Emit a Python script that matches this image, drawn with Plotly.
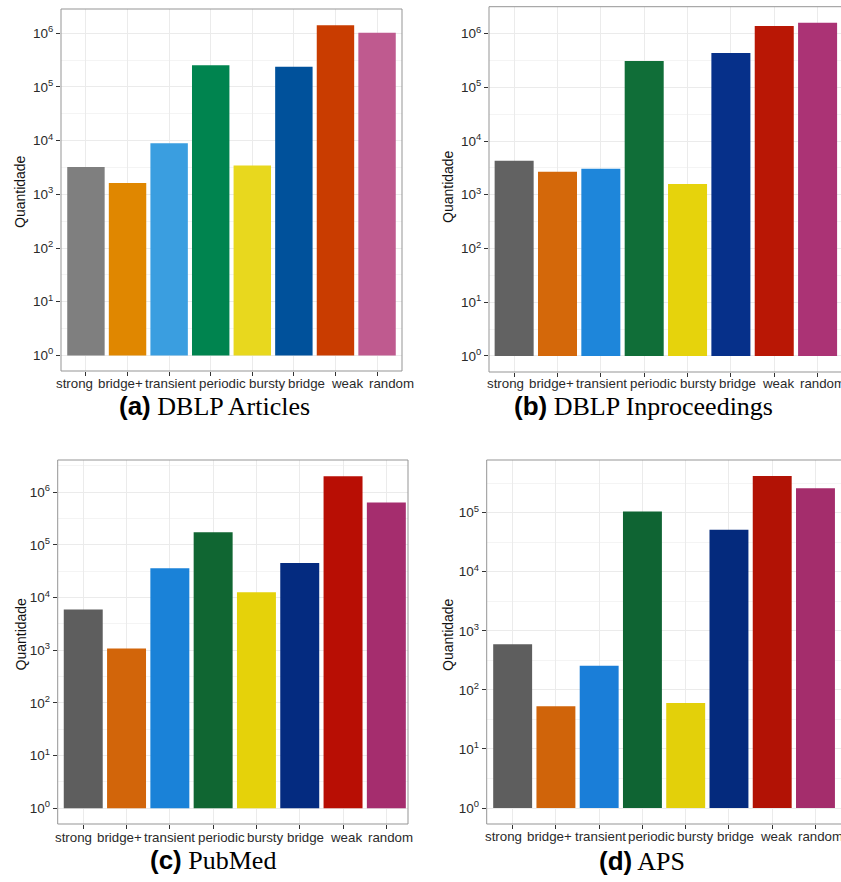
import plotly.graph_objects as go

categories = ["strong", "bridge+", "transient", "periodic", "bursty", "bridge", "weak", "random"]

dblp_articles = [3240, 1620, 8900, 253000, 3450, 236000, 1410000, 1020000]
dblp_inproceedings = [4290, 2690, 3040, 309000, 1590, 434000, 1380000, 1590000]
pubmed = [5900, 1070, 36000, 174000, 12600, 45000, 2000000, 634000]
aps = [590, 53, 256, 104000, 60, 51000, 417000, 258000]

captions = ["(a)", "(b)", "(c)", "(d)"]
caption_names = ["DBLP Articles", "DBLP Inproceedings", "PubMed", "APS"]
y_title = "Quantidade"

exponents_6 = [0, 1, 2, 3, 4, 5, 6]
exponents_5 = [0, 1, 2, 3, 4, 5]

colors_a = ["#7F7F7F", "#E08700", "#3A9EE0", "#00844F", "#E8D81E", "#00519B", "#C93C00", "#BF5A8F"]
colors_b = ["#626262", "#D4680A", "#1E86DA", "#106E38", "#E6D30C", "#06308A", "#B91705", "#AB3375"]
colors_c = ["#5E5E5E", "#D2650A", "#1A82D8", "#106632", "#E5D20A", "#042B80", "#B80E04", "#A52D6E"]
colors_d = ["#5E5E5E", "#D0640A", "#1A7ED8", "#0F6433", "#E3D00A", "#042A7D", "#B21205", "#A42D6C"]

# pixel x-centres of the category labels as laid out in the reference
label_px_a = [74.2, 120.2, 170.3, 222.8, 267, 306.3, 346.8, 391]
label_px_b = [505.3, 551.8, 601.7, 653.8, 698, 737, 778.3, 822]
label_px_c = [73.7, 119.7, 169.7, 221.3, 265.7, 305.3, 345.7, 390]
label_px_d = [504, 549.7, 600, 651.7, 695.7, 735.3, 776.3, 820]

W, H = 841, 882

panels = [
    dict(vals=dblp_articles, colors=colors_a, px=(61, 402, 9, 371), xr=[-0.6, 7.6], yr=[-0.29, 6.45],
         exps=exponents_6, full=True, title_xy=(20, 192), cap_xy=(214, 406),
         lab_x=label_px_a, lab_y=383),
    dict(vals=dblp_inproceedings, colors=colors_b, px=(489, 841, 6.7, 372), xr=[-0.58, 7.54], yr=[-0.30, 6.50],
         exps=exponents_6, full=False, title_xy=(448, 187), cap_xy=(643, 406),
         lab_x=label_px_b, lab_y=383.5),
    dict(vals=pubmed, colors=colors_c, px=(57.7, 408, 460, 824), xr=[-0.59, 7.5], yr=[-0.30, 6.61],
         exps=exponents_6, full=True, title_xy=(20.5, 634), cap_xy=(213, 860),
         lab_x=label_px_c, lab_y=837.3),
    dict(vals=aps, colors=colors_d, px=(486.7, 841, 460, 824), xr=[-0.6, 7.59], yr=[-0.27, 5.89],
         exps=exponents_5, full=False, title_xy=(448, 635), cap_xy=(642, 861),
         lab_x=label_px_d, lab_y=836.7),
]

fig = go.Figure()
layout = dict(
    width=W, height=H,
    margin=dict(l=0, r=0, t=0, b=0),
    paper_bgcolor="white", plot_bgcolor="white",
    showlegend=False, bargap=0.1,
    font=dict(family="Liberation Sans, Arial, sans-serif", color="#333333"),
)
annotations = []
shapes = []
frame_color = "#959595"
sans = "Liberation Sans, Arial, sans-serif"

for i, p in enumerate(panels):
    n = "" if i == 0 else str(i + 1)
    xa, ya = "x" + n, "y" + n
    l, r, t, b = p["px"]
    fig.add_trace(go.Bar(
        x=list(range(len(categories))), y=[v - 1 for v in p["vals"]], base=1,
        marker=dict(color=p["colors"], line=dict(width=0)),
        xaxis=xa, yaxis=ya, hoverinfo="skip",
    ))
    minor_vals = [10 ** (e + 0.5) for e in range(-1, 7)]
    layout["xaxis" + n] = dict(
        domain=[l / W, r / W], anchor=ya, range=p["xr"],
        tickmode="array", tickvals=list(range(len(categories))), showticklabels=False,
        showgrid=True, gridcolor="#EBEBEB", gridwidth=1,
        ticks="outside", ticklen=4, tickcolor="#333333", tickwidth=1,
        automargin=False, showline=False, zeroline=False, fixedrange=True,
    )
    layout["yaxis" + n] = dict(
        domain=[1 - b / H, 1 - t / H], anchor=xa, type="log", range=p["yr"],
        tickvals=[10 ** e for e in p["exps"]],
        ticktext=["10<sup>%d</sup>" % e for e in p["exps"]],
        showgrid=True, gridcolor="#EBEBEB", gridwidth=1,
        minor=dict(tickvals=minor_vals, showgrid=True, gridcolor="#F4F4F4", gridwidth=0.6),
        ticks="outside", ticklen=4, tickcolor="#333333", tickwidth=1,
        automargin=False,
        tickfont=dict(size=13.5, color="#2A2A2A"), showline=False, zeroline=False,
        fixedrange=True,
    )
    # category labels
    for k, cat in enumerate(categories):
        annotations.append(dict(
            text=cat, xref="paper", yref="paper",
            x=p["lab_x"][k] / W, y=1 - p["lab_y"] / H,
            showarrow=False, xanchor="center", yanchor="middle",
            font=dict(size=13.3, color="#2A2A2A", family=sans),
        ))
    # frame
    x0, x1 = l / W, r / W
    y0, y1 = 1 - b / H, 1 - t / H
    line = dict(color=frame_color, width=1)
    shapes.append(dict(type="line", xref="paper", yref="paper", x0=x0, x1=x0, y0=y0, y1=y1, line=line))
    shapes.append(dict(type="line", xref="paper", yref="paper", x0=x0, x1=x1, y0=y0, y1=y0, line=line))
    shapes.append(dict(type="line", xref="paper", yref="paper", x0=x0, x1=x1, y0=y1, y1=y1, line=line))
    if p["full"]:
        shapes.append(dict(type="line", xref="paper", yref="paper", x0=x1, x1=x1, y0=y0, y1=y1, line=line))
    # y title
    tx, ty = p["title_xy"]
    annotations.append(dict(
        text=y_title, x=tx / W, y=1 - ty / H, xref="paper", yref="paper",
        textangle=-90, showarrow=False, xanchor="center", yanchor="middle",
        font=dict(size=14, color="#111111", family=sans),
    ))
    # caption
    cx, cy = p["cap_xy"]
    annotations.append(dict(
        text="<span style='font-family:Liberation Sans, Arial, sans-serif'><b>%s</b></span> %s" % (captions[i], caption_names[i]),
        x=cx / W, y=1 - cy / H, xref="paper", yref="paper",
        showarrow=False, xanchor="center", yanchor="middle",
        font=dict(size=26, color="#000000", family="Liberation Serif, Times New Roman, serif"),
    ))

layout["annotations"] = annotations
layout["shapes"] = shapes
fig.update_layout(**layout)
fig.write_html(
    "out.html",
    config={"displayModeBar": False},
    post_script="document.body.style.margin='0px';document.body.style.overflow='hidden';",
)
